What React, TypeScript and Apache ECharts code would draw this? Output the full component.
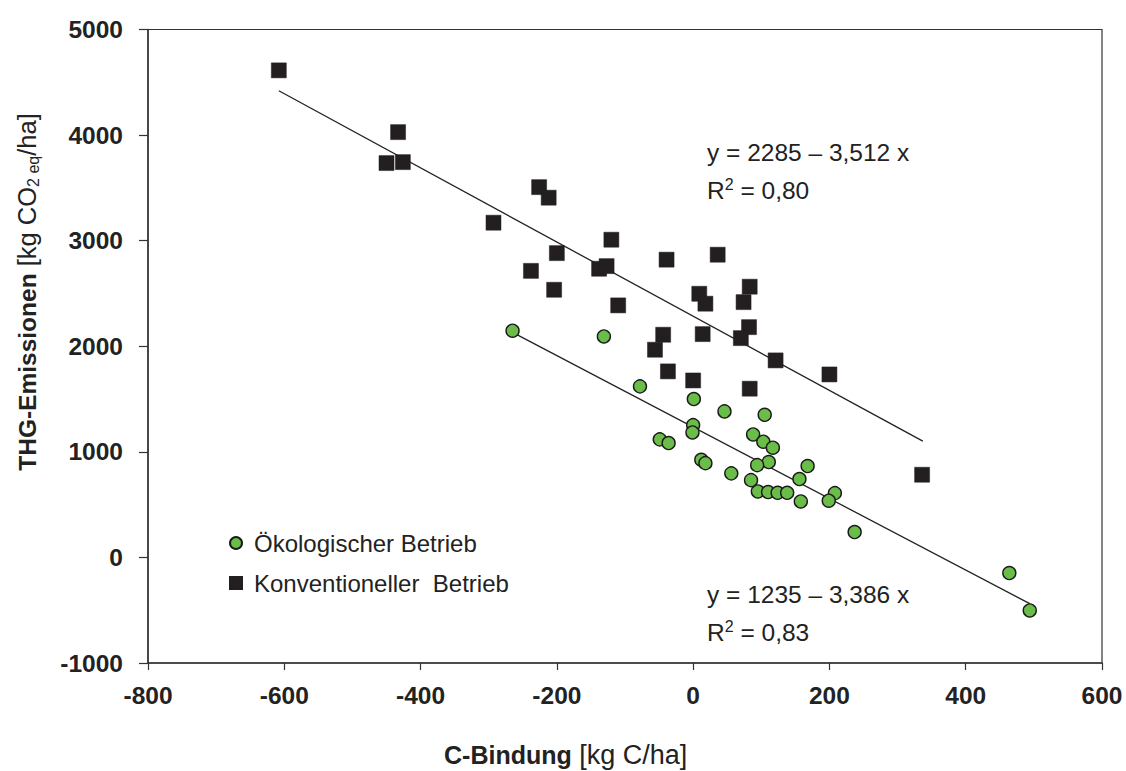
import React, { useEffect, useRef } from "react";
import * as echarts from "echarts";

// Ökologischer Betrieb: [C-Bindung, THG-Emissionen]
const oekoX = [-265, -131, -78, 1, 46, 105, 0, -1, -49, -36, 88, 103, 117, 12, 18, 111, 94, 168, 56, 156, 85, 95, 110, 124, 138, 158, 208, 199, 237, 464, 494];
const oekoY = [2147, 2093, 1620, 1500, 1383, 1351, 1253, 1184, 1118, 1083, 1165, 1096, 1039, 925, 893, 903, 874, 865, 796, 742, 732, 625, 619, 612, 612, 530, 609, 537, 240, -148, -502];

// Konventioneller Betrieb
const konvX = [-608, -433, -450, -426, -293, -226, -212, -238, -120, -200, -204, -138, -127, -39, 36, -110, 83, 9, 18, 74, 82, 70, 14, -44, -56, 121, 200, -37, 0, 83, 336];
const konvY = [4613, 4028, 3735, 3744, 3170, 3507, 3407, 2714, 3009, 2882, 2535, 2734, 2759, 2820, 2867, 2387, 2564, 2497, 2403, 2418, 2181, 2077, 2115, 2109, 1967, 1866, 1733, 1762, 1676, 1598, 783];

// Regression line end points
const konvFitX = [-608, 337];
const konvFitY = [4420, 1101];
const oekoFitX = [-265, 494];
const oekoFitY = [2132, -438];

const xTicks = { min: -800, max: 600, interval: 200 };
const yTicks = { min: -1000, max: 5000, interval: 1000 };

const seriesNames = ["Ökologischer Betrieb", "Konventioneller  Betrieb"];
const eqKonv = ["y = 2285 – 3,512 x", "0,80"];
const eqOeko = ["y = 1235 – 3,386 x", "0,83"];

const FONT = "Arial, 'Liberation Sans', Helvetica, sans-serif";

export default function App() {
  const ref = useRef<HTMLDivElement>(null);
  useEffect(() => {
    if (!ref.current) return;
    const chart = echarts.init(ref.current, undefined, { renderer: "svg" });
    const zip = (a: number[], b: number[]) => a.map((v, i) => [v, b[i]]);
    const eqRich = {
      n: { fontSize: 24.5, fontFamily: FONT, fill: "#222", lineHeight: 38 },
      sup: { fontSize: 16, fontFamily: FONT, fill: "#222", lineHeight: 38, padding: [0, 0, 12, 0] },
    };
    const eqText = (lines: string[]) => `{n|${lines[0]}}\n{n|R}{sup|2}{n| = ${lines[1]}}`;
    chart.setOption({
      animation: false,
      backgroundColor: "#ffffff",
      textStyle: { fontFamily: FONT },
      grid: {
        left: 148,
        right: 24,
        top: 29.5,
        bottom: 108,
        show: true,
        borderColor: "#333",
        borderWidth: 1.2,
      },
      legend: {
        orient: "vertical",
        left: 224,
        top: 526,
        itemWidth: 12,
        itemHeight: 12,
        itemGap: 16,
        textStyle: { fontSize: 24, color: "#222", fontFamily: FONT, padding: [0, 0, 0, 7] },
        data: [
          { name: seriesNames[0], icon: "circle" },
          { name: seriesNames[1], icon: "rect" },
        ],
      },
      xAxis: {
        type: "value",
        min: xTicks.min,
        max: xTicks.max,
        interval: xTicks.interval,
        axisLine: { show: true, onZero: false, lineStyle: { color: "#333", width: 1.5 } },
        axisTick: { show: true, inside: false, length: 7, lineStyle: { color: "#333", width: 1.2 } },
        axisLabel: {
          show: true,
          margin: 20,
          fontSize: 24.5,
          fontWeight: "bold",
          color: "#222",
          fontFamily: FONT,
          showMinLabel: true,
          showMaxLabel: true,
          formatter: (v: number) => String(v),
        },
        splitLine: { show: false },
      },
      yAxis: {
        type: "value",
        min: yTicks.min,
        max: yTicks.max,
        interval: yTicks.interval,
        axisLine: { show: true, onZero: false, lineStyle: { color: "#333", width: 1.5 } },
        axisTick: { show: true, inside: false, length: 9, lineStyle: { color: "#333", width: 1.2 } },
        axisLabel: {
          show: true,
          margin: 25,
          fontSize: 24.5,
          fontWeight: "bold",
          color: "#222",
          fontFamily: FONT,
          showMinLabel: true,
          showMaxLabel: true,
          formatter: (v: number) => String(v),
        },
        splitLine: { show: false },
      },
      series: [
        {
          name: "fitKonv",
          type: "line",
          data: zip(konvFitX, konvFitY),
          symbol: "none",
          lineStyle: { color: "#222", width: 1.3 },
          silent: true,
          z: 1,
        },
        {
          name: "fitOeko",
          type: "line",
          data: zip(oekoFitX, oekoFitY),
          symbol: "none",
          lineStyle: { color: "#222", width: 1.3 },
          silent: true,
          z: 1,
        },
        {
          name: seriesNames[1],
          type: "scatter",
          symbol: "rect",
          symbolSize: 15,
          data: zip(konvX, konvY),
          itemStyle: { color: "#231f20", borderColor: "#231f20", borderWidth: 0.5, opacity: 1 },
          z: 3,
        },
        {
          name: seriesNames[0],
          type: "scatter",
          symbol: "circle",
          symbolSize: 13,
          data: zip(oekoX, oekoY),
          itemStyle: { color: "#6abd48", borderColor: "#1a1a1a", borderWidth: 1.4, opacity: 1 },
          z: 4,
        },
      ],
      graphic: [
        {
          type: "text",
          left: 707,
          top: 140,
          style: { text: eqText(eqKonv), fill: "#222", rich: eqRich },
        },
        {
          type: "text",
          left: 707,
          top: 582,
          style: { text: eqText(eqOeko), fill: "#222", rich: eqRich },
        },
        {
          type: "text",
          x: 444,
          y: 755,
          style: {
            text: "{b|C-Bindung}{n| [kg C/ha]}",
            align: "left",
            verticalAlign: "middle",
            fill: "#222",
            rich: {
              b: { fontSize: 25, fontWeight: "bold", fontFamily: FONT, fill: "#222" },
              n: { fontSize: 27, fontFamily: FONT, fill: "#222" },
            },
          },
        },
        {
          type: "text",
          x: 27,
          y: 292,
          rotation: Math.PI / 2,
          style: {
            text: "{b|THG-Emissionen}{n| [kg CO}{s|2 eq}{n|/ha]}",
            align: "center",
            verticalAlign: "middle",
            fill: "#222",
            rich: {
              b: { fontSize: 24.5, fontWeight: "bold", fontFamily: FONT, fill: "#222", lineHeight: 28 },
              n: { fontSize: 25.5, fontFamily: FONT, fill: "#222", lineHeight: 28 },
              s: { fontSize: 16, fontFamily: FONT, fill: "#222", lineHeight: 15, verticalAlign: "bottom" },
            },
          },
        },
      ],
    });
    return () => chart.dispose();
  }, []);
  return (
    <div
      ref={ref}
      style={{ position: "fixed", left: 0, top: 0, width: 1126, height: 771, background: "#fff" }}
    />
  );
}
